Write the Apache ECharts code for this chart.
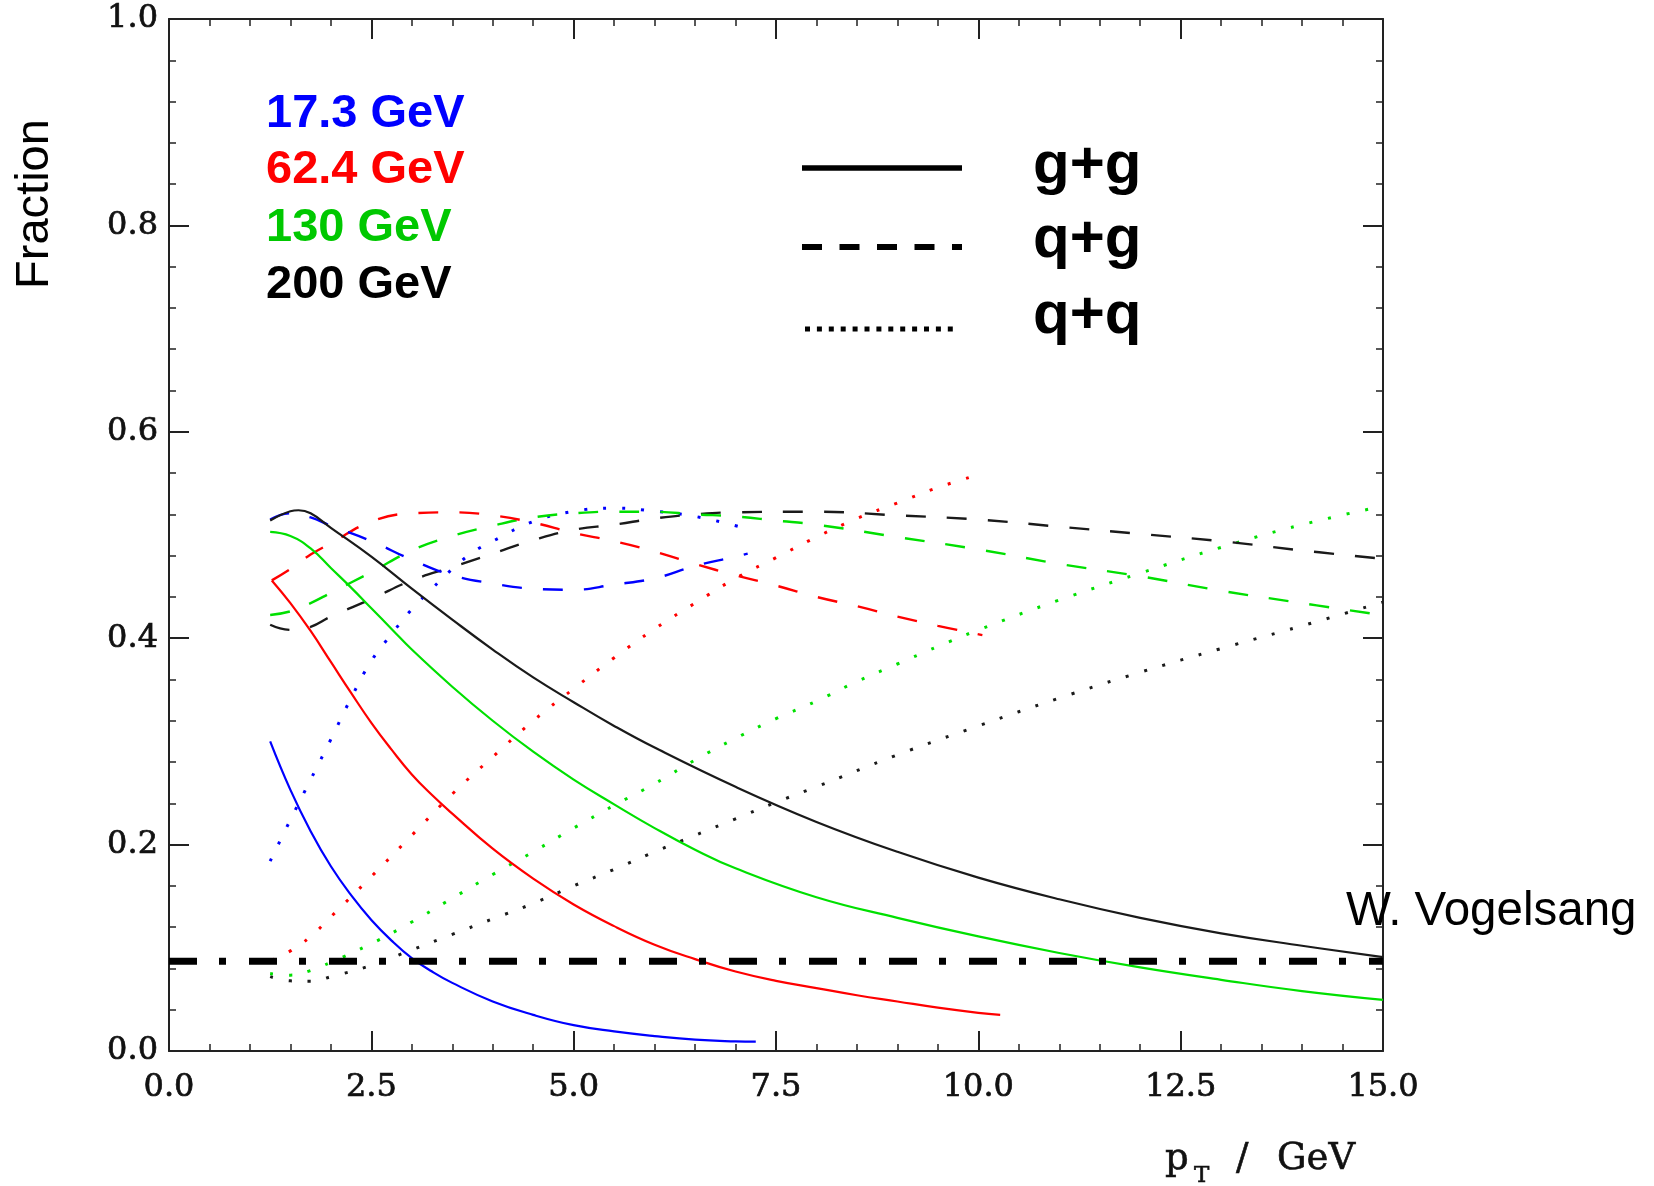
<!DOCTYPE html>
<html>
<head>
<meta charset="utf-8">
<title>Fraction vs pT</title>
<script src="https://cdn.jsdelivr.net/npm/echarts@6/dist/echarts.min.js"></script>
<style>
  html, body { margin: 0; padding: 0; background: #fff; }
  #chart { width: 1654px; height: 1186px; }
</style>
</head>
<body>
<div id="chart"></div>
<script>
// --- data (pT in GeV, fraction) ---
var energies = ['17.3 GeV', '62.4 GeV', '130 GeV', '200 GeV'];
var channels = ['g+g', 'q+g', 'q+q'];
var xTicks = [0, 2.5, 5, 7.5, 10, 12.5, 15];
var yTicks = [0, 0.2, 0.4, 0.6, 0.8, 1.0];

// 17.3 GeV
var pt17gg = [1.25, 1.5, 1.75, 2.0, 2.25, 2.5, 2.75, 3.0, 3.25, 3.5, 4.0, 4.5, 5.0, 5.5, 6.0, 6.5, 7.0, 7.25];
var fr17gg = [0.300, 0.253, 0.213, 0.179, 0.151, 0.127, 0.107, 0.090, 0.077, 0.066, 0.048, 0.035, 0.025, 0.019, 0.0145, 0.011, 0.0093, 0.009];
var pt17qg = [1.25, 1.5, 1.75, 2.0, 2.5, 3.0, 3.5, 4.0, 4.5, 5.0, 5.5, 6.0, 6.5, 7.0, 7.15];
var fr17qg = [0.515, 0.521, 0.517, 0.509, 0.494, 0.476, 0.461, 0.453, 0.448, 0.447, 0.452, 0.458, 0.470, 0.479, 0.482];
var pt17qq = [1.25, 1.5, 1.75, 2.0, 2.25, 2.5, 2.75, 3.0, 3.25, 3.5, 3.75, 4.0, 4.5, 5.0, 5.5, 6.0, 6.5, 7.1];
var fr17qq = [0.184, 0.224, 0.263, 0.302, 0.342, 0.378, 0.404, 0.428, 0.448, 0.467, 0.483, 0.494, 0.513, 0.523, 0.526, 0.523, 0.518, 0.507];

// 62.4 GeV
var pt62gg = [1.27, 1.5, 1.75, 2.0, 2.25, 2.5, 2.75, 3.0, 3.25, 3.5, 4.0, 4.5, 5.0, 5.5, 6.0, 6.5, 7.0, 7.5, 8.0, 8.5, 9.0, 9.5, 10.0, 10.27];
var fr62gg = [0.456, 0.434, 0.407, 0.377, 0.347, 0.318, 0.292, 0.268, 0.248, 0.230, 0.196, 0.167, 0.142, 0.121, 0.103, 0.089, 0.077, 0.068, 0.061, 0.054, 0.048, 0.042, 0.037, 0.035];
var pt62qg = [1.27, 1.5, 1.75, 2.0, 2.5, 3.0, 3.5, 4.0, 4.5, 5.0, 5.5, 6.0, 6.5, 7.0, 7.5, 8.0, 8.5, 9.0, 9.5, 10.05];
var fr62qg = [0.456, 0.467, 0.481, 0.492, 0.513, 0.521, 0.522, 0.519, 0.512, 0.502, 0.494, 0.484, 0.472, 0.461, 0.451, 0.440, 0.431, 0.421, 0.412, 0.403];
var pt62qq = [1.27, 1.5, 1.75, 2.0, 2.5, 3.0, 3.5, 4.0, 4.5, 5.0, 5.5, 6.0, 6.5, 7.0, 7.5, 8.0, 8.5, 9.0, 9.5, 10.07];
var fr62qq = [0.088, 0.097, 0.111, 0.130, 0.169, 0.209, 0.249, 0.285, 0.320, 0.351, 0.381, 0.409, 0.434, 0.458, 0.478, 0.498, 0.516, 0.531, 0.546, 0.560];

// 130 GeV
var pt130gg = [1.25, 1.5, 1.75, 2.0, 2.25, 2.5, 2.75, 3.0, 3.5, 4.0, 4.5, 5.0, 5.5, 6.0, 6.5, 7.0, 8.0, 9.0, 10.0, 11.0, 12.0, 13.0, 14.0, 15.0];
var fr130gg = [0.503, 0.499, 0.487, 0.468, 0.449, 0.429, 0.409, 0.389, 0.353, 0.320, 0.290, 0.263, 0.239, 0.216, 0.195, 0.177, 0.149, 0.129, 0.111, 0.095, 0.081, 0.069, 0.058, 0.0495];
var pt130qg = [1.25, 1.5, 1.75, 2.0, 2.5, 3.0, 3.5, 4.0, 4.5, 5.0, 5.5, 6.0, 6.5, 7.0, 7.5, 8.0, 9.0, 10.0, 11.0, 12.0, 13.0, 14.0, 14.85];
var fr130qg = [0.4225, 0.426, 0.434, 0.444, 0.464, 0.485, 0.499, 0.509, 0.517, 0.521, 0.5226, 0.5225, 0.520, 0.518, 0.514, 0.510, 0.498, 0.486, 0.472, 0.460, 0.446, 0.434, 0.424];
var pt130qq = [1.25, 1.5, 1.75, 2.0, 2.5, 3.0, 3.5, 4.0, 4.5, 5.0, 5.5, 6.0, 6.5, 7.0, 7.5, 8.0, 8.5, 9.0, 9.5, 10.0, 11.0, 12.0, 13.0, 14.0, 15.0];
var fr130qq = [0.075, 0.0735, 0.078, 0.086, 0.104, 0.125, 0.148, 0.171, 0.193, 0.216, 0.238, 0.259, 0.282, 0.303, 0.322, 0.339, 0.358, 0.375, 0.392, 0.408, 0.437, 0.463, 0.488, 0.510, 0.528];

// 200 GeV
var pt200gg = [1.25, 1.5, 1.6, 1.75, 2.0, 2.5, 3.0, 3.5, 4.0, 4.5, 5.0, 5.5, 6.0, 7.0, 8.0, 9.0, 10.0, 11.0, 12.0, 13.0, 14.0, 15.0];
var fr200gg = [0.514, 0.523, 0.524, 0.521, 0.507, 0.479, 0.448, 0.418, 0.389, 0.362, 0.338, 0.315, 0.294, 0.256, 0.222, 0.193, 0.168, 0.147, 0.129, 0.114, 0.102, 0.091];
var pt200qg = [1.25, 1.5, 1.75, 2.0, 2.5, 3.0, 3.5, 4.0, 4.5, 5.0, 5.5, 6.0, 6.5, 7.0, 8.0, 9.0, 10.0, 11.0, 12.0, 13.0, 14.0, 15.0];
var fr200qg = [0.413, 0.408, 0.411, 0.421, 0.438, 0.456, 0.469, 0.482, 0.495, 0.505, 0.510, 0.516, 0.520, 0.522, 0.5226, 0.519, 0.515, 0.508, 0.501, 0.494, 0.485, 0.477];
var pt200qq = [1.25, 1.5, 1.75, 2.0, 2.5, 3.0, 3.5, 4.0, 4.5, 5.0, 5.5, 6.0, 6.5, 7.0, 7.5, 8.0, 9.0, 10.0, 11.0, 12.0, 13.0, 14.0, 15.0];
var fr200qq = [0.072, 0.068, 0.0675, 0.072, 0.083, 0.098, 0.113, 0.128, 0.143, 0.160, 0.176, 0.193, 0.209, 0.225, 0.241, 0.256, 0.287, 0.315, 0.342, 0.367, 0.390, 0.412, 0.435];

// horizontal dash-dot reference level
var refPt = [0, 15];
var refFrac = [0.087, 0.087];

var colors = { '17.3 GeV': '#0000ff', '62.4 GeV': '#ff0000', '130 GeV': '#00e000', '200 GeV': '#1a1a1a' };
var textColors = { '17.3 GeV': '#0000ff', '62.4 GeV': '#ff0000', '130 GeV': '#00c800', '200 GeV': '#000000' };
var dashes = { 'g+g': 'solid', 'q+g': [20, 21], 'q+q': [3, 16] };
var widths = { 'g+g': 2.2, 'q+g': 2.4, 'q+q': 3 };

function pairs(xs, ys) {
  return xs.map(function(x, i) { return [x, ys[i]]; });
}

function curve(energy, channel, xs, ys) {
  return {
    name: energy + ' ' + channel,
    type: 'line',
    data: pairs(xs, ys),
    showSymbol: false,
    smooth: 0.45,
    clip: true,
    lineStyle: { color: colors[energy], width: widths[channel], type: dashes[channel], cap: 'butt' },
    z: 3
  };
}

var series = [
  curve('200 GeV', 'q+q', pt200qq, fr200qq),
  curve('130 GeV', 'q+q', pt130qq, fr130qq),
  curve('62.4 GeV', 'q+q', pt62qq, fr62qq),
  curve('17.3 GeV', 'q+q', pt17qq, fr17qq),
  curve('200 GeV', 'q+g', pt200qg, fr200qg),
  curve('130 GeV', 'q+g', pt130qg, fr130qg),
  curve('62.4 GeV', 'q+g', pt62qg, fr62qg),
  curve('17.3 GeV', 'q+g', pt17qg, fr17qg),
  curve('200 GeV', 'g+g', pt200gg, fr200gg),
  curve('130 GeV', 'g+g', pt130gg, fr130gg),
  curve('62.4 GeV', 'g+g', pt62gg, fr62gg),
  curve('17.3 GeV', 'g+g', pt17gg, fr17gg),
  {
    name: 'reference',
    type: 'line',
    data: pairs(refPt, refFrac),
    showSymbol: false,
    lineStyle: { color: '#000', width: 7, type: [28, 22, 7, 23], cap: 'butt' },
    z: 5
  }
];

var axisInk = '#222';
function frameAxis(extra) {
  var a = {
    type: 'value',
    axisLine: { show: true, onZero: false, lineStyle: { color: axisInk, width: 2 } },
    axisTick: { show: true, inside: true, length: 20, lineStyle: { color: axisInk, width: 2 } },
    minorTick: { show: true, splitNumber: 5, length: 7, lineStyle: { color: axisInk, width: 1.5 } },
    splitLine: { show: false },
    minorSplitLine: { show: false }
  };
  for (var k in extra) a[k] = extra[k];
  return a;
}

function tickLabel(margin) {
  return {
    formatter: function(v) { return v.toFixed(1); },
    margin: margin,
    fontFamily: 'DejaVu Serif', fontSize: 32, color: '#111',
    textBorderColor: '#111', textBorderWidth: 0.7
  };
}

// legend keys and annotations
var graphics = [];
energies.forEach(function(e, i) {
  graphics.push({
    type: 'text', x: 266, y: [114, 170, 228, 285][i], z: 10,
    style: { text: e, fill: textColors[e], font: 'bold 47px "Liberation Sans"', textAlign: 'left', textVerticalAlign: 'middle' }
  });
});
var keyY = [168, 247, 329];
var keyTextY = [166, 240, 316];
var keyStyle = [
  { width: 5.5, dash: null },
  { width: 6, dash: [20, 17.5] },
  { width: 5, dash: [5, 6.9] }
];
channels.forEach(function(c, i) {
  graphics.push({
    type: 'line', z: 10,
    shape: { x1: i === 2 ? 805 : 802, y1: keyY[i], x2: i === 2 ? 959 : 962, y2: keyY[i] },
    style: { stroke: '#000', lineWidth: keyStyle[i].width, lineDash: keyStyle[i].dash, lineCap: 'butt' }
  });
  graphics.push({
    type: 'text', x: 1033, y: keyTextY[i], z: 10,
    style: { text: c, fill: '#000', font: 'bold 60px "Liberation Sans"', textAlign: 'left', textVerticalAlign: 'middle' }
  });
});
graphics.push({
  type: 'text', x: 35, y: 204, rotation: Math.PI / 2, z: 10,
  style: { text: 'Fraction', fill: '#000', font: '47px "Liberation Sans"', textAlign: 'center', textVerticalAlign: 'middle' }
});
graphics.push({
  type: 'text', x: 1346, y: 912, z: 10,
  style: { text: 'W. Vogelsang', fill: '#000', font: '47.5px "Liberation Sans"', textAlign: 'left', textVerticalAlign: 'middle' }
});
// x-axis title: p_T / GeV
var titleStyle = { fill: '#111', stroke: '#111', lineWidth: 0.6, textAlign: 'left', textVerticalAlign: 'middle' };
function titlePiece(text, x, y, size) {
  var s = { text: text, font: size + 'px "DejaVu Serif"' };
  for (var k in titleStyle) s[k] = titleStyle[k];
  return { type: 'text', x: x, y: y, z: 10, style: s };
}
graphics.push(titlePiece('p', 1165, 1159, 37));
graphics.push(titlePiece('T', 1194, 1176, 23));
graphics.push(titlePiece('/', 1236, 1159, 37));
graphics.push(titlePiece('GeV', 1277, 1159, 37));

var chart = echarts.init(document.getElementById('chart'), null, { renderer: 'canvas' });
chart.setOption({
  animation: false,
  backgroundColor: '#fff',
  grid: { left: 169, right: 271, top: 19, bottom: 135, containLabel: false },
  xAxis: [
    frameAxis({ min: xTicks[0], max: xTicks[xTicks.length - 1], interval: xTicks[1] - xTicks[0], position: 'bottom', axisLabel: tickLabel(21) }),
    frameAxis({ min: xTicks[0], max: xTicks[xTicks.length - 1], interval: xTicks[1] - xTicks[0], position: 'top', axisLabel: { show: false } })
  ],
  yAxis: [
    frameAxis({ min: yTicks[0], max: yTicks[yTicks.length - 1], interval: yTicks[1] - yTicks[0], position: 'left', axisLabel: tickLabel(11) }),
    frameAxis({ min: yTicks[0], max: yTicks[yTicks.length - 1], interval: yTicks[1] - yTicks[0], position: 'right', axisLabel: { show: false } })
  ],
  legend: { show: false },
  tooltip: { show: false },
  series: series,
  graphic: graphics
});
</script>
</body>
</html>
